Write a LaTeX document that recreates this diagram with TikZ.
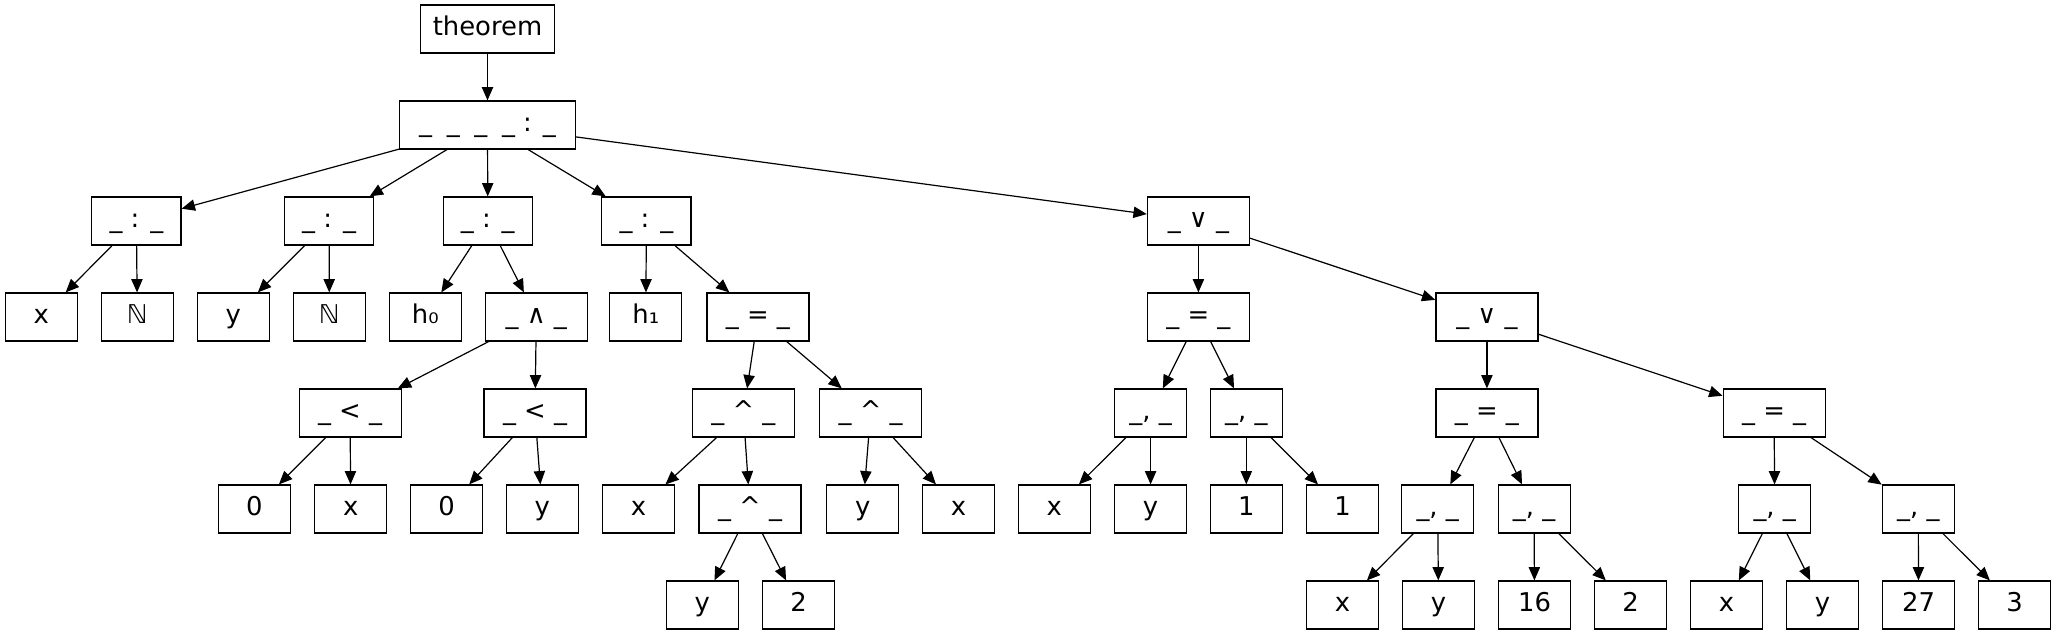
\documentclass[tikz,border=0pt]{standalone}
\usepackage{fontspec}
\setmainfont{DejaVu Sans}
\usetikzlibrary{arrows.meta}
\begin{document}
\begin{tikzpicture}[x=0.75pt,y=-0.75pt,
  box/.style={draw=black, line width=0.9pt, inner sep=0pt, minimum height=36pt,
    text height=14.6pt, text depth=4.2pt, font=\fontsize{19.4}{23}\selectfont, anchor=center},
  leaf/.style={box, minimum width=54pt},
  colon/.style={box, minimum width=67pt},
  op/.style={box, minimum width=76.5pt},
  edge/.style={-{Triangle[length=10pt,width=8.5pt]}, line width=0.9pt, black}]
\useasboundingbox (0,0) rectangle (2056,635);
% row 0 and 1
\node[box, minimum width=100.5pt] (thm) at (487.5,29) {theorem};
\node[box, minimum width=132pt] (fa) at (487.5,125) {\_\hspace{11pt}\_\hspace{11pt}\_\hspace{11pt}\_ : \_};
% row 2
\node[colon] (A) at (136.4,221) {\_ : \_};
\node[colon] (B) at (329.1,221) {\_ : \_};
\node[colon] (C) at (487.8,221) {\_ : \_};
\node[colon] (D) at (646.4,221) {\_ : \_};
\node[op] (E) at (1198.4,221) {\_ ∨ \_};
% row 3
\node[leaf] (x1) at (41.3,317) {x};
\node[leaf] (N1) at (137.3,317) {ℕ};
\node[leaf] (y1) at (233.3,317) {y};
\node[leaf] (N2) at (329.3,317) {ℕ};
\node[leaf] (h0) at (425.3,317) {h₀};
\node[op] (and1) at (536.3,317) {\_ ∧ \_};
\node[leaf] (h1) at (645.8,317) {h₁};
\node[op] (eq1) at (757.9,317) {\_ = \_};
\node[op] (eq2) at (1198.4,317) {\_ = \_};
\node[op] (or2) at (1486.9,317) {\_ ∨ \_};
% row 4
\node[op] (lt1) at (350.1,413) {\_ < \_};
\node[op] (lt2) at (535.0,413) {\_ < \_};
\node[op] (pow1) at (743.4,413) {\_ \^{} \_};
\node[op] (pow2) at (870.6,413) {\_ \^{} \_};
\node[leaf] (c1) at (1150.6,413) {\_, \_};
\node[leaf] (c2) at (1246.3,413) {\_, \_};
\node[op] (eq3) at (1486.9,413) {\_ = \_};
\node[op] (eq4) at (1774.1,413) {\_ = \_};
% row 5
\node[leaf] (z1) at (254.4,509) {0};
\node[leaf] (x2) at (350.7,509) {x};
\node[leaf] (z2) at (446.5,509) {0};
\node[leaf] (y2) at (542.2,509) {y};
\node[leaf] (x3) at (638.6,509) {x};
\node[op] (pow3) at (750.0,509) {\_ \^{} \_};
\node[leaf] (y3) at (862.8,509) {y};
\node[leaf] (x4) at (958.5,509) {x};
\node[leaf] (x5) at (1054.2,509) {x};
\node[leaf] (y5) at (1150.6,509) {y};
\node[leaf] (o1) at (1246.3,509) {1};
\node[leaf] (o2) at (1342.7,509) {1};
\node[leaf] (c3) at (1437.7,509) {\_, \_};
\node[leaf] (c4) at (1534.1,509) {\_, \_};
\node[leaf] (c5) at (1774.7,509) {\_, \_};
\node[leaf] (c6) at (1918.3,509) {\_, \_};
% row 6
\node[leaf] (y6) at (702.2,605) {y};
\node[leaf] (t1) at (798.5,605) {2};
\node[leaf] (x6) at (1342.5,605) {x};
\node[leaf] (y7) at (1438.5,605) {y};
\node[leaf] (s16) at (1534.5,605) {16};
\node[leaf] (t2) at (1630.5,605) {2};
\node[leaf] (x7) at (1726.5,605) {x};
\node[leaf] (y8) at (1822.5,605) {y};
\node[leaf] (n27) at (1918.5,605) {27};
\node[leaf] (n3) at (2014.5,605) {3};
% edges
\foreach \a/\b in {thm/fa, fa/A, fa/B, fa/C, fa/D, fa/E,
  A/x1, A/N1, B/y1, B/N2, C/h0, C/and1, D/h1, D/eq1, E/eq2, E/or2,
  and1/lt1, and1/lt2, eq1/pow1, eq1/pow2, eq2/c1, eq2/c2, or2/eq3, or2/eq4,
  lt1/z1, lt1/x2, lt2/z2, lt2/y2, pow1/x3, pow1/pow3, pow2/y3, pow2/x4,
  c1/x5, c1/y5, c2/o1, c2/o2, eq3/c3, eq3/c4, eq4/c5, eq4/c6,
  pow3/y6, pow3/t1, c3/x6, c3/y7, c4/s16, c4/t2, c5/x7, c5/y8, c6/n27, c6/n3}
  \draw[edge] (\a) -- (\b);
\end{tikzpicture}
\end{document}
